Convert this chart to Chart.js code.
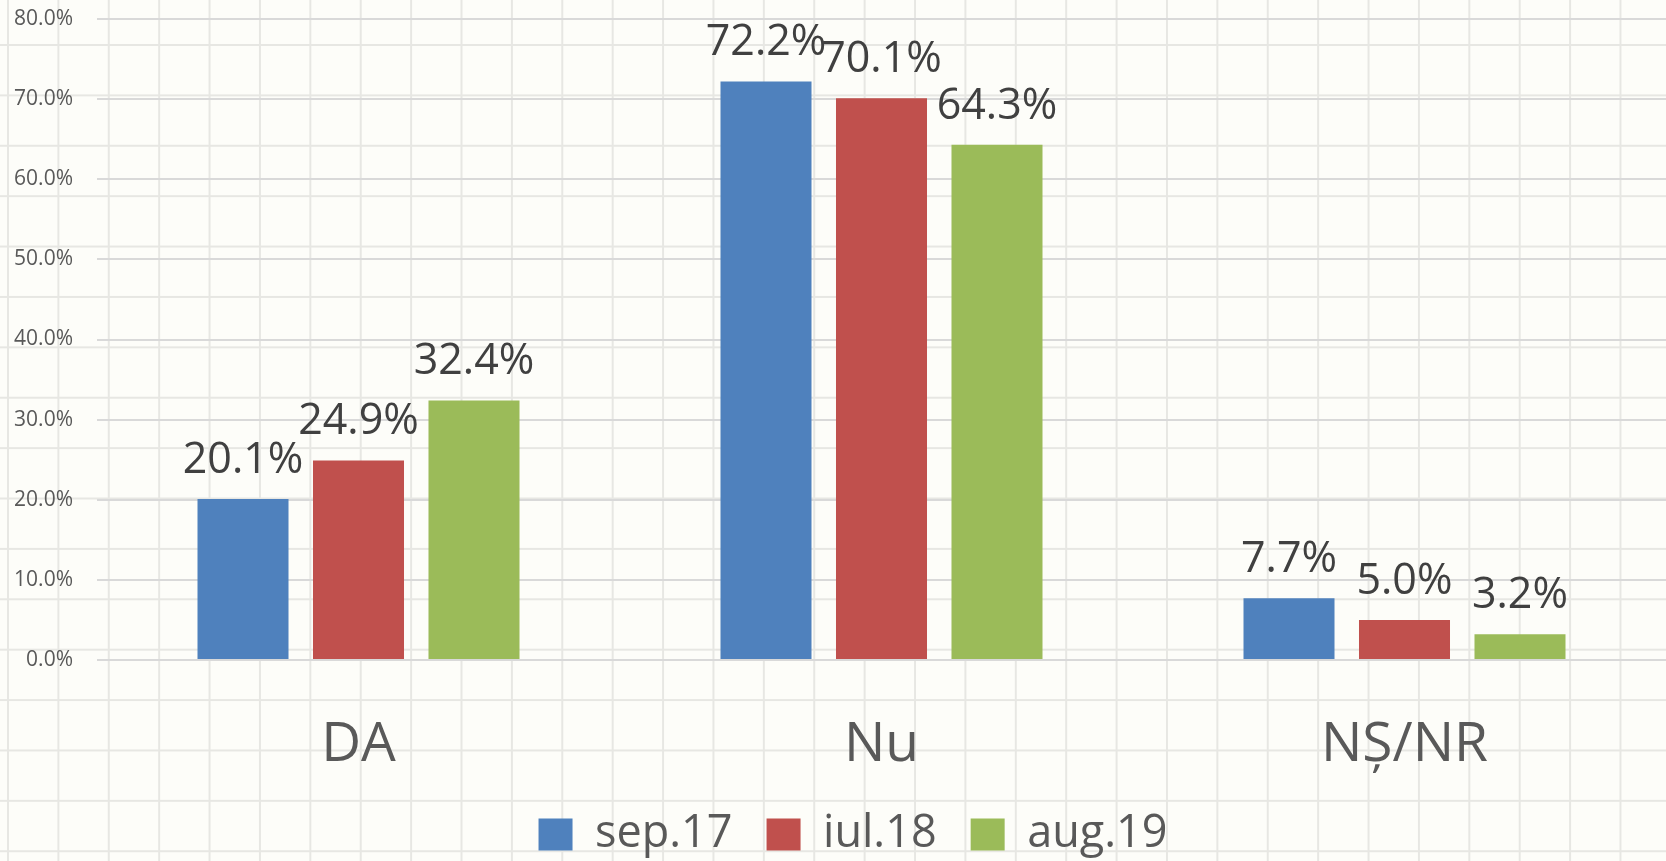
<!DOCTYPE html>
<html>
<head>
<meta charset="utf-8">
<script src="https://cdn.jsdelivr.net/npm/chart.js@4"></script>
<style>
    html, body { margin: 0; padding: 0; }
    body {
        width: 1666px;
        height: 861px;
        background-color: #fdfdf9;
        background-image:
            linear-gradient(to right, #e7e7e3 2px, transparent 2px),
            linear-gradient(to bottom, #e7e7e3 2px, transparent 2px);
        background-size: 50.4px 50.4px;
        background-position: 7px 44px;
    }
    #wrap { position: relative; width: 1666px; height: 861px; }
</style>
</head>
<body>
<div id="wrap"><canvas id="myChart"></canvas></div>
<script>
const categorii = ['DA', 'Nu', 'NȘ/NR'];
const perioade = ['sep.17', 'iul.18', 'aug.19'];
const sep17 = [20.1, 72.2, 7.7];
const iul18 = [24.9, 70.1, 5.0];
const aug19 = [32.4, 64.3, 3.2];
const culori = ['#4f81bd', '#c0504d', '#9bbb59'];
const yTicks = [0, 10, 20, 30, 40, 50, 60, 70, 80];

const fontFamily = '"Open Sans", "Noto Sans", sans-serif';

// etichete deasupra barelor
const eticheteValori = {
    id: 'eticheteValori',
    afterDatasetsDraw(chart) {
        const ctx = chart.ctx;
        ctx.save();
        ctx.font = '43px ' + fontFamily;
        ctx.fillStyle = '#404040';
        ctx.textAlign = 'center';
        ctx.textBaseline = 'alphabetic';
        chart.data.datasets.forEach(function (ds, i) {
            chart.getDatasetMeta(i).data.forEach(function (bar, j) {
                ctx.fillText(ds.data[j].toFixed(1) + '%', bar.x, bar.y - 26);
            });
        });
        ctx.restore();
    }
};

// legenda putin mutata spre dreapta, ca in original
const mutaLegenda = {
    id: 'mutaLegenda',
    afterLayout(chart) {
        if (chart.legend) {
            chart.legend.left += 40;
        }
    }
};

const ctx = document.getElementById('myChart').getContext('2d');
const myChart = new Chart(ctx, {
    type: 'bar',
    data: {
        labels: categorii,
        datasets: [sep17, iul18, aug19].map(function (valori, i) {
            return {
                label: perioade[i],
                data: valori,
                backgroundColor: culori[i],
                categoryPercentage: 0.6625,
                barPercentage: 0.788
            };
        })
    },
    options: {
        responsive: true,
        maintainAspectRatio: false,
        animation: false,
        layout: { padding: { left: 0, top: 19, right: 0, bottom: -6 } },
        plugins: {
            legend: {
                position: 'bottom',
                labels: {
                    font: { family: fontFamily, size: 45 },
                    color: '#595959',
                    boxWidth: 34,
                    boxHeight: 32,
                    padding: 34
                }
            },
            tooltip: { enabled: false }
        },
        scales: {
            x: {
                grid: { display: false, tickLength: 52 },
                border: { display: false },
                ticks: {
                    font: { family: fontFamily, size: 55 },
                    color: '#595959',
                    padding: 0
                }
            },
            y: {
                min: 0,
                max: 80,
                afterFit: function (scale) { scale.width = 97; },
                afterBuildTicks: function (scale) {
                    scale.ticks = yTicks.map(v => ({ value: v }));
                },
                border: { display: false },
                grid: {
                    color: '#d9d9d9',
                    lineWidth: 2,
                    tickLength: 24,
                    tickColor: 'rgba(0,0,0,0)'
                },
                ticks: {
                    font: { family: fontFamily, size: 21 },
                    color: '#595959',
                    padding: 0,
                    callback: v => v.toFixed(1) + '%'
                }
            }
        }
    },
    plugins: [eticheteValori, mutaLegenda]
});
</script>
</body>
</html>
